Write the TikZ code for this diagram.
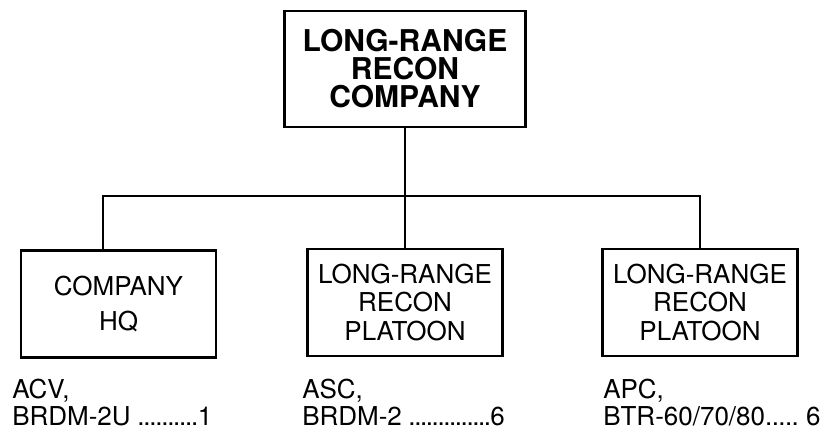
\documentclass[tikz,border=0pt]{standalone}
\usepackage{fontspec}
\setmainfont{TeX Gyre Heros}
\usepackage{tikz}
\usetikzlibrary{positioning}
\newcommand{\dotrow}[3]{\makebox[#1][l]{#2\xleaders\hbox to .22em{\hss.\hss}\hfill#3}}
\tikzset{
company_box/.style={rectangle, draw, line width=1.9pt, align=center, minimum width=181pt, minimum height=87pt, font=\fontsize{22.5}{21}\selectfont\bfseries},
unit_box/.style={rectangle, draw, line width=1.9pt, align=center, minimum width=146pt, minimum height=80pt, font=\fontsize{19.5}{21.5}\selectfont},
link/.style={line width=1.9pt},
vehicle/.style={anchor=base west, inner sep=0pt, font=\fontsize{19.5}{21}\selectfont}
}

\begin{document}
\begin{tikzpicture}[x=0.75pt, y=-0.75pt]
    \useasboundingbox (0,0) rectangle (822,430);
    \node[company_box] (company) at (405,69) {LONG-RANGE\\RECON\\COMPANY};
    \node[unit_box, font=\fontsize{19.5}{26}\selectfont] (hq) at (118.5,304) {COMPANY\\HQ};
    \node[unit_box] (platoon_a) at (405,302.5) {LONG-RANGE\\RECON\\PLATOON};
    \node[unit_box] (platoon_b) at (700,302.5) {LONG-RANGE\\RECON\\PLATOON};
    \coordinate (bar_left) at (103,196);
    \draw[link] (company.south) -- (platoon_a.north);
    \draw[link] (bar_left |- hq.north) -- (bar_left) -| (platoon_b.north);
    % vehicles under each box
    \node[vehicle] (hq_type) at (12,398) {ACV,};
    \node[vehicle] (hq_count) at (12,425) {\dotrow{150pt}{BRDM-2U }{1}};
    \node[vehicle] (pa_type) at (302,398) {ASC,};
    \node[vehicle] (pa_count) at (302,425) {\dotrow{152pt}{BRDM-2 }{6}};
    \node[vehicle] (pb_type) at (603,398) {APC,};
    \node[vehicle] (pb_count) at (603,425) {\dotrow{163pt}{BTR-60/70/80}{ 6}};
\end{tikzpicture}
\end{document}
